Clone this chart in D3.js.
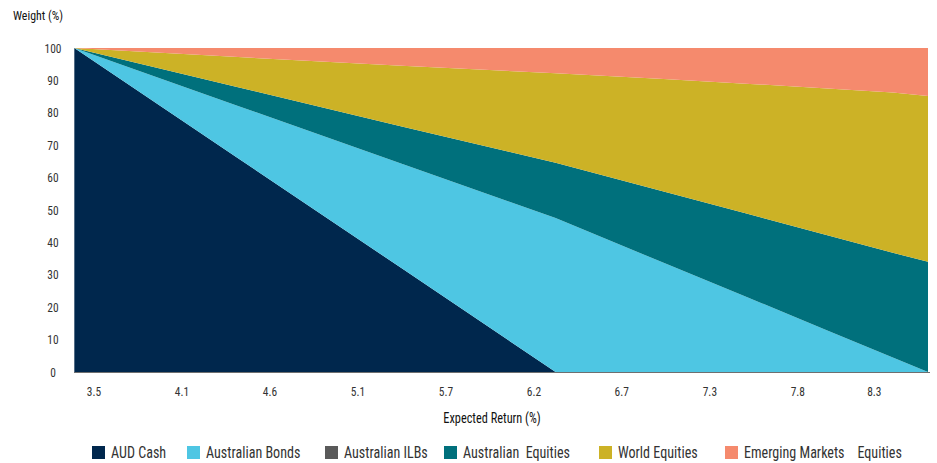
<!DOCTYPE html>
<html><head><meta charset="utf-8">
<script src="https://cdn.jsdelivr.net/npm/d3@7"></script>
<style>
body{margin:0;background:#fff;}
text{font-family:"Liberation Sans Narrow","Arial Narrow","Roboto Condensed",Roboto,sans-serif;}
</style></head>
<body><svg id="c" width="937" height="463"></svg>
<script>
// ---- data ----
const expectedReturn = [3.40, 4.40, 5.40, 6.34, 7.00, 7.50, 8.00, 8.40, 8.615];
const audCash        = [100, 66.0, 32.0, 0, 0, 0, 0, 0, 0];
const ausBonds       = [0, 16.1, 32.3, 47.5, 33.7, 23.3, 12.8, 4.5, 0];
const ausILBs        = [0, 0, 0, 0, 0, 0, 0, 0, 0];
const ausEquities    = [0, 5.8, 11.5, 17.1, 22.0, 25.7, 29.4, 32.3, 34.0];
const worldEquities  = [0, 9.3, 18.7, 27.6, 34.7, 40.0, 45.3, 49.5, 51.2];
const emEquities     = [0, 2.8, 5.5, 7.8, 9.6, 11.0, 12.5, 13.7, 14.8];
const seriesNames = ["AUD Cash","Australian Bonds","Australian ILBs","Australian  Equities","World Equities","Emerging Markets    Equities"];
const seriesColors = ["#00274d","#4ec6e3","#5a5a5a","#00707c","#ccb226","#f58a6d"];
const xTickValues = [3.52, 4.0575, 4.595, 5.1325, 5.67, 6.2075, 6.744, 7.2825, 7.82, 8.287];
const xTickLabels = ["3.5","4.1","4.6","5.1","5.7","6.2","6.7","7.3","7.8","8.3"];
const yTicks = [0,10,20,30,40,50,60,70,80,90,100];

const svg = d3.select("#c");
const m = {l:74, r:9, t:48, b:91};
const W = 937, H = 463;
const NARROW = 0.88;
const x = d3.scaleLinear().domain([3.398, 8.615]).range([m.l, W - m.r]);
const y = d3.scaleLinear().domain([0,100]).range([H - m.b, m.t]);

const seriesArrays = [audCash, ausBonds, ausILBs, ausEquities, worldEquities, emEquities];
const keys = seriesArrays.map((_, i) => "s" + i);
const table = expectedReturn.map((r, j) => {
  const o = {r};
  seriesArrays.forEach((a, i) => o["s" + i] = a[j]);
  return o;
});
const stacked = d3.stack().keys(keys)(table);
const area = d3.area().x(d => x(d.data.r)).y0(d => y(d[0])).y1(d => y(d[1]));

svg.append("g").selectAll("path").data(stacked).join("path")
  .attr("d", area).attr("fill", (d, i) => seriesColors[i]);

// x axis line
svg.append("line").attr("x1", m.l).attr("x2", W - m.r + 2)
  .attr("y1", y(0) + 0.5).attr("y2", y(0) + 0.5)
  .attr("stroke", "#6f6f6f").attr("stroke-width", 1.2);

function narrowText(sel, px, py, s) {
  return sel.append("text")
    .attr("transform", `translate(${px},${py}) scale(${s},1)`);
}

// y tick labels
const yg = svg.append("g");
yTicks.forEach(d => {
  narrowText(yg, 53, y(d), NARROW).attr("dy", "0.36em")
    .attr("text-anchor", "middle").attr("font-size", 13).attr("fill", "#333").text(d);
});

// x tick labels
const xg = svg.append("g");
xTickValues.forEach((d, i) => {
  narrowText(xg, x(d), 396, NARROW).attr("text-anchor", "middle")
    .attr("font-size", 13).attr("fill", "#333").text(xTickLabels[i]);
});

narrowText(svg, 13, 20, NARROW).attr("font-size", 13.5).attr("fill", "#111").text("Weight (%)");
narrowText(svg, 492, 423, NARROW).attr("text-anchor", "middle")
  .attr("font-size", 14).attr("fill", "#111").text("Expected Return (%)");

// legend
const legendX = [92, 187, 325, 444, 599, 725];
const lg = svg.append("g").selectAll("g").data(seriesNames).join("g")
  .attr("transform", (d, i) => `translate(${legendX[i]},446)`);
lg.append("rect").attr("width", 13).attr("height", 13).attr("fill", (d, i) => seriesColors[i]);
lg.append("text").attr("transform", `translate(19,12) scale(${NARROW},1)`).attr("font-size", 16)
  .attr("fill", "#333").attr("xml:space", "preserve").style("white-space", "pre").text(d => d);
</script></body></html>
